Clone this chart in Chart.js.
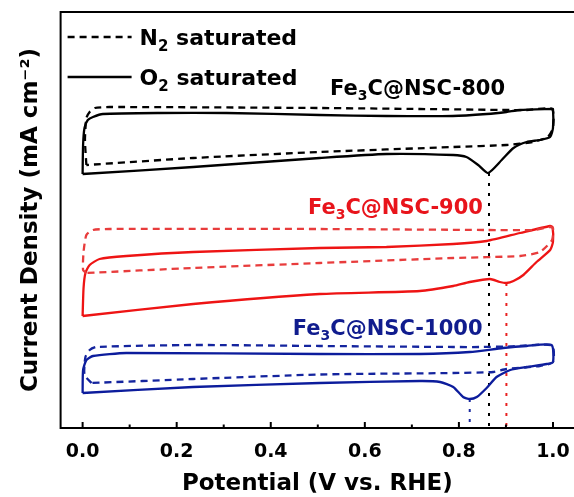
<!DOCTYPE html>
<html><head><meta charset="utf-8">
<script src="https://cdn.jsdelivr.net/npm/chart.js@4.4.0/dist/chart.umd.min.js"></script>
<style>html,body{margin:0;padding:0;background:#fff;}#wrap{width:574px;height:497px;}</style>
</head><body><div id="wrap"><canvas id="c" width="574" height="497"></canvas></div>
<script>
// ---- data (potential V vs RHE, current density in arbitrary offset units) ----
const majorTicks = [0.0, 0.2, 0.4, 0.6, 0.8, 1.0];
const minorTicks = [0.1, 0.3, 0.5, 0.7, 0.9];

const nsc800_O2 = [[0.000,25.4],[0.001,28.3],[0.004,30.0],[0.011,30.8],[0.022,31.1],[0.043,31.4],[0.164,31.5],[0.306,31.5],[0.504,31.3],[0.646,31.2],[0.787,31.2],[0.859,31.4],[0.901,31.6],[0.930,31.8],[0.997,31.9],[1.000,31.9],[1.000,30.0],[0.994,29.1],[0.972,28.8],[0.944,28.6],[0.916,28.0],[0.891,26.8],[0.862,25.5],[0.841,26.3],[0.816,27.1],[0.788,27.3],[0.646,27.4],[0.504,27.0],[0.235,26.1],[0.000,25.4]];
const nsc800_N2 = [[0.008,26.3],[0.005,28.8],[0.008,31.0],[0.015,31.6],[0.026,32.0],[0.057,32.1],[0.504,32.0],[0.717,31.9],[0.909,31.8],[0.944,31.8],[0.998,31.9],[1.000,30.0],[0.989,29.1],[0.957,28.6],[0.901,28.3],[0.788,28.1],[0.504,27.6],[0.235,27.0],[0.008,26.3]];

const nsc900_O2 = [[0.000,11.2],[0.002,14.0],[0.006,15.5],[0.015,16.3],[0.036,16.9],[0.093,17.2],[0.235,17.6],[0.504,18.0],[0.646,18.1],[0.788,18.4],[0.859,18.7],[0.930,19.5],[0.994,20.2],[0.999,20.1],[1.000,18.6],[0.994,17.8],[0.965,16.6],[0.937,15.3],[0.916,14.7],[0.901,14.5],[0.887,14.6],[0.866,14.9],[0.823,14.6],[0.788,14.2],[0.717,13.7],[0.504,13.4],[0.235,12.4],[0.000,11.2]];
const nsc900_N2 = [[0.008,15.5],[0.001,15.8],[0.002,17.6],[0.008,19.3],[0.022,19.8],[0.057,19.9],[0.504,19.9],[0.859,19.8],[0.958,19.8],[0.994,20.1],[1.000,20.0],[0.998,18.8],[0.972,17.6],[0.930,17.2],[0.788,17.0],[0.504,16.5],[0.235,16.0],[0.008,15.5]];

const nsc1000_O2 = [[0.000,3.5],[0.001,5.8],[0.008,6.8],[0.022,7.2],[0.093,7.5],[0.504,7.4],[0.717,7.4],[0.823,7.6],[0.894,8.0],[0.944,8.2],[0.997,8.3],[1.000,6.6],[0.987,6.4],[0.944,6.1],[0.909,5.8],[0.880,5.1],[0.859,4.0],[0.838,3.1],[0.823,2.9],[0.809,3.1],[0.788,4.1],[0.760,4.6],[0.717,4.7],[0.504,4.5],[0.235,4.1],[0.000,3.5]];
const nsc1000_N2 = [[0.019,4.5],[0.004,5.3],[0.006,7.1],[0.015,7.8],[0.029,8.1],[0.235,8.3],[0.504,8.2],[0.788,8.1],[0.845,8.1],[0.909,8.15],[0.998,8.25],[1.000,6.6],[0.972,6.2],[0.901,5.9],[0.873,5.6],[0.788,5.5],[0.504,5.35],[0.235,4.9],[0.019,4.5]];

const samples = ['800', '900', '1000'];
const peakPotentials = [0.864, 0.901, 0.823];
const peakCurrents = [25.5, 14.5, 2.9];
const labelPotentials = [0.526, 0.479, 0.447];
const labelCurrents = [34.1, 22.2, 10.1];

// ---- styles ----
const colSolid = ['#000000', '#ee1414', '#0c1c9c'];
const colDash  = ['#000000', '#e83c3c', '#14249e'];
const colText  = ['#000000', '#e8141b', '#101c8e'];
const FONT = "'DejaVu Sans', sans-serif";

const toPts = a => a.map(p => ({x: p[0], y: p[1]}));
const curves = [[nsc800_O2, nsc800_N2], [nsc900_O2, nsc900_N2], [nsc1000_O2, nsc1000_N2]];
const datasets = [];
curves.forEach((pair, i) => {
  datasets.push({label: 'N2 ' + samples[i], data: toPts(pair[1]), borderColor: colDash[i], borderDash: [7, 5], borderWidth: 2.3, showLine: true, pointRadius: 0, tension: 0.2, fill: false});
  datasets.push({label: 'O2 ' + samples[i], data: toPts(pair[0]), borderColor: colSolid[i], borderWidth: 2.3, showLine: true, pointRadius: 0, tension: 0.2, fill: false});
});
const dotCols = ['#000000', '#e82020', '#1a2aa0'];
peakPotentials.forEach((p, i) => {
  datasets.push({label: 'peak ' + samples[i], data: [{x: p, y: peakCurrents[i]}, {x: p, y: 0}], borderColor: dotCols[i], borderDash: [3, 7], borderWidth: 2, showLine: true, pointRadius: 0, fill: false});
});

function drawSubText(ctx, x, y, parts, size, color) {
  ctx.fillStyle = color;
  ctx.textBaseline = 'alphabetic';
  ctx.textAlign = 'left';
  let cx = x;
  const base = y + size * 0.36;
  parts.forEach(([t, sub]) => {
    const s = sub ? Math.round(size * 0.66) : size;
    ctx.font = 'bold ' + s + 'px ' + FONT;
    ctx.fillText(t, cx, sub ? base + size * 0.28 : base);
    cx += ctx.measureText(t).width;
  });
}

const decor = {
  id: 'decor',
  afterDatasetsDraw(chart) {
    const ctx = chart.ctx, a = chart.chartArea, xs = chart.scales.x, ys = chart.scales.y;
    ctx.save();
    ctx.strokeStyle = '#000'; ctx.lineWidth = 2; ctx.setLineDash([]);
    ctx.beginPath();
    ctx.moveTo(a.right + 5, a.top); ctx.lineTo(a.left, a.top); ctx.lineTo(a.left, a.bottom); ctx.lineTo(a.right + 5, a.bottom);
    ctx.stroke();
    majorTicks.forEach(v => { const px = xs.getPixelForValue(v); ctx.beginPath(); ctx.moveTo(px, a.bottom); ctx.lineTo(px, a.bottom - 6); ctx.stroke(); });
    minorTicks.forEach(v => { const px = xs.getPixelForValue(v); ctx.beginPath(); ctx.moveTo(px, a.bottom); ctx.lineTo(px, a.bottom - 3.5); ctx.stroke(); });
    const lx0 = a.left + 7, lx1 = a.left + 71;
    ctx.lineWidth = 2.3;
    ctx.setLineDash([7, 5]);
    ctx.beginPath(); ctx.moveTo(lx0, a.top + 25); ctx.lineTo(lx1, a.top + 25); ctx.stroke();
    ctx.setLineDash([]);
    ctx.beginPath(); ctx.moveTo(lx0, a.top + 65); ctx.lineTo(lx1, a.top + 65); ctx.stroke();
    drawSubText(ctx, a.left + 79, a.top + 25, [['N', false], ['2', true], [' saturated', false]], 22, '#000');
    drawSubText(ctx, a.left + 79, a.top + 65, [['O', false], ['2', true], [' saturated', false]], 22, '#000');
    samples.forEach((s, i) => {
      drawSubText(ctx, xs.getPixelForValue(labelPotentials[i]), ys.getPixelForValue(labelCurrents[i]),
        [['Fe', false], ['3', true], ['C@NSC-' + s, false]], 21, colText[i]);
    });
    ctx.restore();
  }
};

Chart.defaults.font.family = FONT;
Chart.defaults.font.weight = 'bold';
Chart.defaults.color = '#000';

new Chart(document.getElementById('c'), {
  type: 'scatter',
  data: {datasets},
  options: {
    responsive: false,
    animation: false,
    events: [],
    layout: {padding: {top: 12, left: 0, right: 0, bottom: 0}},
    plugins: {legend: {display: false}, tooltip: {enabled: false}},
    scales: {
      x: {
        type: 'linear', min: -0.0468, max: 1.0447,
        grid: {display: false, drawTicks: false},
        border: {display: false},
        afterBuildTicks: s => { s.ticks = majorTicks.map(v => ({value: v})); },
        afterFit: s => { s.paddingLeft = 0; s.paddingRight = 0; s.height = 69; },
        ticks: {autoSkip: false, maxRotation: 0, padding: 13, font: {size: 19, weight: 'bold'}, color: '#000',
          callback: v => Number(v).toFixed(1)},
        title: {display: true, text: 'Potential (V vs. RHE)', font: {size: 23, weight: 'bold'}, color: '#000', padding: {top: 4, bottom: -1}}
      },
      y: {
        type: 'linear', min: 0, max: 41.6,
        grid: {display: false, drawTicks: false},
        border: {display: false},
        ticks: {display: false},
        title: {display: true, text: 'Current Density (mA cm⁻²)', font: {size: 23, weight: 'bold'}, color: '#000', padding: {top: 17, bottom: 16}}
      }
    }
  },
  plugins: [decor]
});
</script>
</body></html>
